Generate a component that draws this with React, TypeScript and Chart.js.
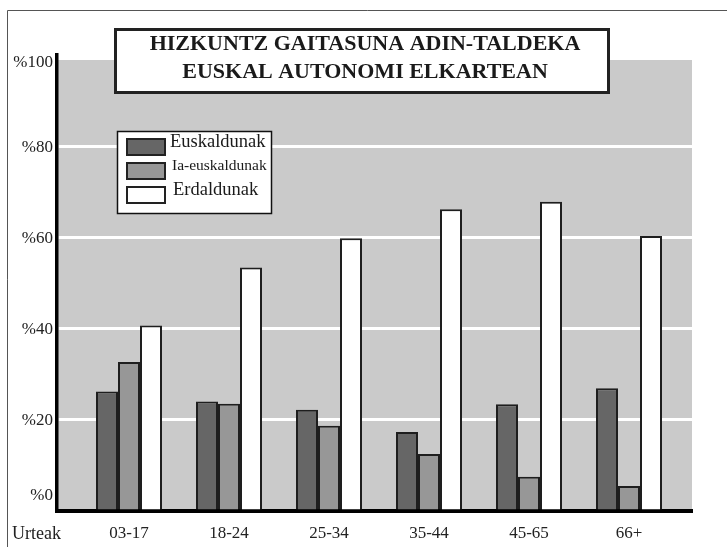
import React, { useEffect, useRef } from "react";
import { Chart, registerables } from "chart.js";

Chart.register(...registerables);

const categories = ["03-17", "18-24", "25-34", "35-44", "45-65", "66+"];
const euskaldunak = [26.2, 24, 22.2, 17.3, 23.4, 26.9];
const iaEuskaldunak = [32.7, 23.5, 18.7, 12.5, 7.5, 5.5];
const erdaldunak = [40.7, 53.4, 59.8, 66.2, 67.8, 60.3];
const seriesLabels = ["Euskaldunak", "Ia-euskaldunak", "Erdaldunak"];
const yTickValues = [0, 20, 40, 60, 80, 100];
const titleLines = ["HIZKUNTZ GAITASUNA ADIN-TALDEKA", "EUSKAL AUTONOMI ELKARTEAN"];
const xAxisLabel = "Urteak";

const SERIF = '"Liberation Serif", "Times New Roman", serif';
const seriesColors = ["#666666", "#979797", "#ffffff"];

const decorPlugin = {
  id: "decor",
  beforeDraw(chart: any) {
    const { ctx, chartArea } = chart;
    ctx.save();
    // outer frame
    ctx.strokeStyle = "#555";
    ctx.lineWidth = 1;
    ctx.beginPath();
    ctx.moveTo(7.5, 800);
    ctx.lineTo(7.5, 10.5);
    ctx.lineTo(800, 10.5);
    ctx.stroke();
    // gray plot background
    ctx.fillStyle = "#cacaca";
    ctx.fillRect(chartArea.left, chartArea.top + 5, chartArea.right - chartArea.left, chartArea.bottom - chartArea.top - 5);
    ctx.restore();
  },
  afterDraw(chart: any) {
    const { ctx } = chart;
    const ys = chart.scales.y;
    ctx.save();
    // y tick labels
    ctx.font = "17px " + SERIF;
    ctx.fillStyle = "#222";
    ctx.textAlign = "right";
    ctx.textBaseline = "middle";
    yTickValues.forEach((v) => {
      const off = v === 100 ? 8 : v === 0 ? -15 : 1;
      ctx.fillText("%" + v, 53, ys.getPixelForValue(v) + off);
    });
    // x axis label
    ctx.textAlign = "left";
    ctx.font = "18px " + SERIF;
    ctx.fillText(xAxisLabel, 12, 534);

    // title box
    ctx.fillStyle = "#fff";
    ctx.fillRect(115, 29, 494, 64);
    ctx.strokeStyle = "#222";
    ctx.lineWidth = 3;
    ctx.strokeRect(115.5, 29.5, 493, 63);
    ctx.fillStyle = "#1a1a1a";
    ctx.font = "bold 22px " + SERIF;
    ctx.textAlign = "center";
    ctx.fillText(titleLines[0], 365, 44);
    ctx.fillText(titleLines[1], 365, 72);

    // legend
    ctx.fillStyle = "#fff";
    ctx.fillRect(117, 131, 155, 83);
    ctx.strokeStyle = "#111";
    ctx.lineWidth = 1.5;
    ctx.strokeRect(117.5, 131.5, 154, 82);
    const tops = [138, 162, 186];
    const sizes = [18.5, 15.5, 18.5];
    const textX = [170, 172, 173];
    chart.data.datasets.forEach((ds: any, i: number) => {
      ctx.fillStyle = ds.backgroundColor;
      ctx.fillRect(126, tops[i], 40, 18);
      ctx.strokeStyle = "#222";
      ctx.lineWidth = 2;
      ctx.strokeRect(127, tops[i] + 1, 38, 16);
      ctx.fillStyle = "#1a1a1a";
      ctx.textAlign = "left";
      ctx.textBaseline = "middle";
      ctx.font = sizes[i] + "px " + SERIF;
      ctx.fillText(ds.label, textX[i], tops[i] + 4);
    });
    ctx.restore();
  },
};

export default function App() {
  const canvasRef = useRef<HTMLCanvasElement | null>(null);

  useEffect(() => {
    if (!canvasRef.current) return;
    const seriesValues = [euskaldunak, iaEuskaldunak, erdaldunak];
    const chart = new Chart(canvasRef.current, {
      type: "bar",
      data: {
        datasets: seriesValues.map((vals, s) => ({
          label: seriesLabels[s],
          data: vals.map((v, i) => ({ x: i, y: v })),
          backgroundColor: seriesColors[s],
          borderColor: "#1e1e1e",
          borderWidth: 2,
          borderSkipped: "start",
          categoryPercentage: 0.66,
          barPercentage: 1.0,
        })),
      },
      options: {
        responsive: false,
        animation: false,
        devicePixelRatio: 1,
        layout: { padding: { left: 0, top: 55, right: 35, bottom: 0 } },
        plugins: {
          legend: { display: false },
          title: { display: false },
          tooltip: { enabled: false },
        },
        scales: {
          x: {
            type: "linear",
            min: -0.72,
            max: 5.63,
            offset: false,
            z: 1,
            grid: { display: false, drawTicks: false },
            border: { display: true, color: "#000", width: 4 },
            afterBuildTicks: (axis: any) => {
              axis.ticks = categories.map((_, i) => ({ value: i }));
            },
            afterFit: (axis: any) => {
              axis.height = 36;
            },
            ticks: {
              autoSkip: false,
              maxRotation: 0,
              padding: 12,
              color: "#222",
              font: { family: SERIF, size: 17 },
              callback: (value: any) => categories[Math.round(Number(value))] ?? "",
            },
          },
          y: {
            min: 0,
            max: 100,
            afterFit: (axis: any) => {
              axis.width = 57;
            },
            grid: {
              drawTicks: false,
              lineWidth: 3,
              color: (ctx: any) =>
                ctx.tick && ctx.tick.value > 0 && ctx.tick.value < 100 ? "#ffffff" : "rgba(0,0,0,0)",
            },
            border: { display: true, color: "#000", width: 3.5 },
            ticks: { stepSize: 20, display: false },
          },
        },
      },
      plugins: [decorPlugin],
    });
    return () => chart.destroy();
  }, []);

  return (
    <div style={{ position: "fixed", left: 0, top: 0, width: 727, height: 547, background: "#fff" }}>
      <canvas ref={canvasRef} width={727} height={547} />
    </div>
  );
}
